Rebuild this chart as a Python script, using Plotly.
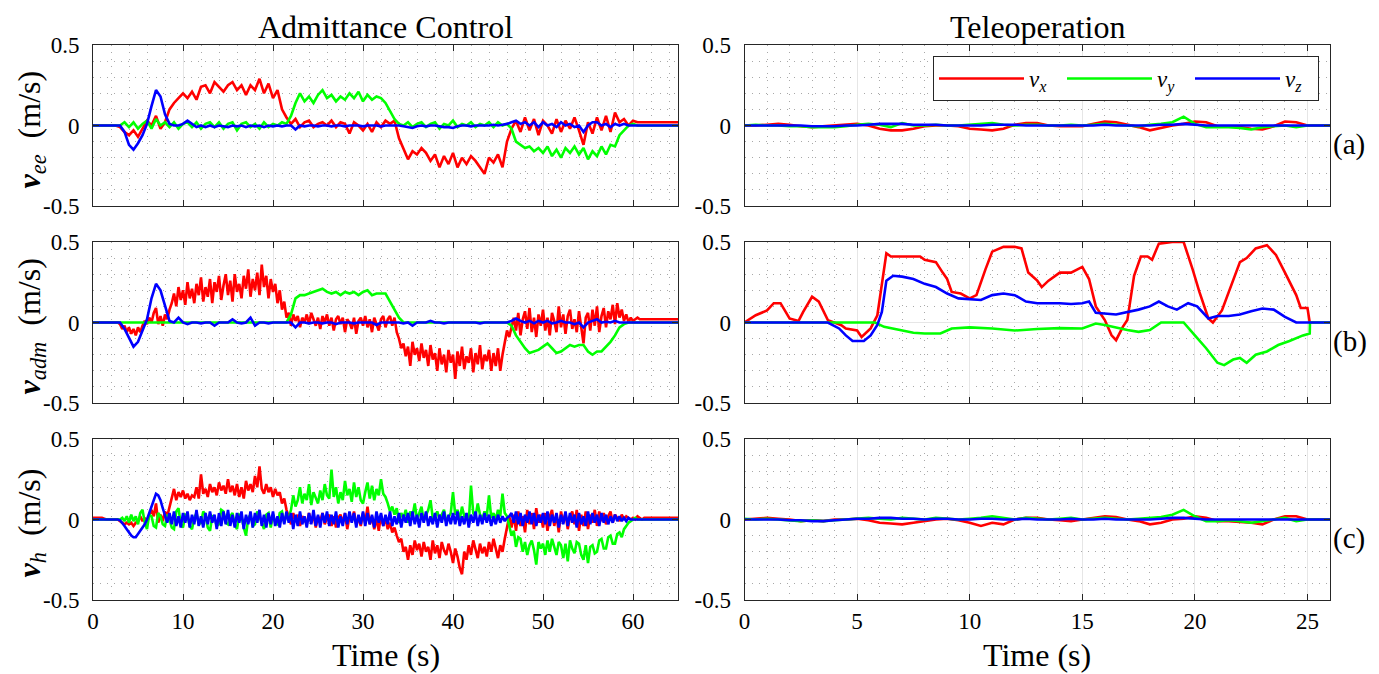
import numpy as np
import plotly.graph_objects as go

T_STEP = 0.5
T_FINE = 0.25

# Admittance control, (a) end-effector velocity  (0.5 s spacing)
ee_vx = [0, 0, 0, 0, 0, 0, -0.01, -0.04, -0.06, -0.03,
         -0.07, -0.02, 0.03, 0.0, 0.06, -0.02, 0.02, 0.1, 0.14, 0.17,
         0.2, 0.17, 0.21, 0.16, 0.24, 0.25, 0.2, 0.27, 0.24, 0.21,
         0.25, 0.27, 0.22, 0.25, 0.19, 0.25, 0.22, 0.29, 0.2, 0.26,
         0.17, 0.22, 0.1, 0.05, 0.01, 0.04, -0.01, 0.02, 0.03, -0.01,
         0.01, 0.02, 0.0, 0.03, -0.01, 0.02, 0.01, -0.05, 0.02, 0.0,
         -0.03, 0.01, -0.04, 0.02, -0.01, 0.03, 0.01, 0.03, -0.08, -0.15,
         -0.21, -0.16, -0.18, -0.14, -0.17, -0.22, -0.18, -0.26, -0.19, -0.24,
         -0.17, -0.26, -0.2, -0.24, -0.19, -0.22, -0.26, -0.3, -0.2, -0.23,
         -0.18, -0.26, -0.1, -0.02, 0.03, -0.04, 0.05, -0.03, 0.04, -0.06,
         0.03, 0.0, -0.05, 0.04, -0.04, 0.03, -0.02, 0.05, -0.03, -0.12,
         0.02, -0.05, 0.05, -0.03, 0.06, -0.04, 0.08, 0.02, 0.04, 0.0,
         0.03, 0.02, 0.02, 0.02, 0.02, 0.02, 0.02, 0.02, 0.02, 0.02,
         0.02]
ee_vy = [0, 0, 0, 0, 0, 0, 0.0, 0.02, -0.01, 0.02,
         -0.02, 0.01, 0.03, -0.02, 0.04, 0.0, 0.02, -0.01, 0.02, -0.02,
         0.01, 0.02, -0.01, 0.02, -0.02, 0.01, 0.02, -0.01, 0.02, -0.02,
         0.01, 0.02, -0.03, 0.01, 0.02, -0.01, 0.01, -0.02, 0.02, -0.01,
         0.01, 0.0, 0.02, 0.01, 0.06, 0.14, 0.2, 0.15, 0.18, 0.14,
         0.19, 0.22, 0.17, 0.19, 0.15, 0.18, 0.16, 0.2, 0.17, 0.21,
         0.15, 0.19, 0.16, 0.18, 0.17, 0.14, 0.09, 0.04, 0.01, 0.0,
         0.02, -0.01, 0.01, 0.02, -0.01, 0.01, 0.02, -0.02, 0.01, 0.0,
         0.03, -0.01, 0.01, 0.0, 0.02, -0.01, 0.01, 0.0, 0.02, -0.01,
         0.02, 0.0, 0.01, -0.02, -0.1, -0.12, -0.14, -0.13, -0.16, -0.14,
         -0.17, -0.13, -0.19, -0.15, -0.2, -0.14, -0.17, -0.13, -0.18, -0.14,
         -0.21, -0.16, -0.19, -0.13, -0.18, -0.12, -0.13, -0.06, -0.03, 0.0,
         0.01, 0, 0, 0, 0, 0, 0, 0, 0, 0,
         0]
ee_vz = [0, 0, 0, 0, 0, 0, 0.0, -0.04, -0.12, -0.15,
         -0.11, -0.06, 0.01, 0.12, 0.22, 0.18, 0.07, 0.01, 0.0, 0.0,
         0.01, 0.03, 0.01, -0.01, 0.0, -0.01, 0.0, -0.01, 0.0, -0.005,
         -0.01, 0.0, -0.005, 0.0, -0.01, 0.0, -0.005, 0.0, -0.01, 0.0,
         -0.005, 0.0, -0.005, 0.0, 0.0, -0.025, 0.0, -0.005, 0.0, 0.0,
         -0.005, 0.0, 0.0, -0.005, 0.0, 0.0, -0.005, 0.0, 0.0, 0.0,
         -0.005, 0.0, 0.0, 0.0, -0.005, 0.0, 0.0, 0.0, 0.0, -0.005,
         -0.01, -0.015, -0.005, 0.0, -0.005, 0.0, 0.0, -0.005, -0.01, -0.01,
         -0.015, -0.005, 0.0, 0.0, -0.005, 0.0, 0.0, 0.0, 0.0, 0.005,
         0.0, 0.005, 0.01, 0.02, 0.03, 0.01, 0.02, 0.0, 0.02, -0.01,
         0.02, 0.0, 0.01, -0.01, 0.02, 0.0, 0.01, -0.01, 0.0, -0.04,
         0.0, 0.02, 0.02, 0.0, 0.01, -0.01, 0.01, 0.0, 0.01, 0.0,
         0, 0, 0, 0, 0, 0, 0, 0, 0, 0,
         0]

# Admittance control, (b) admittance velocity
adm_vx = [0, 0, 0, 0, 0, 0, 0, 0, 0, 0, 0, 0, -0.01, -0.04, -0.02, -0.06, -0.03, -0.07, -0.04, -0.08,
          -0.03, -0.06, -0.02, 0.01, -0.01, 0.03, 0.0, 0.06, 0.09, -0.01, 0.04, -0.02, 0.05, 0.02, 0.08, 0.12, 0.18, 0.1, 0.22, 0.14,
          0.2, 0.11, 0.25, 0.15, 0.21, 0.12, 0.24, 0.17, 0.28, 0.13, 0.22, 0.16, 0.27, 0.12, 0.25, 0.19, 0.29, 0.14, 0.23, 0.3,
          0.17, 0.26, 0.13, 0.3, 0.19, 0.24, 0.15, 0.29, 0.21, 0.33, 0.16, 0.27, 0.2, 0.31, 0.17, 0.36, 0.22, 0.29, 0.15, 0.27,
          0.19, 0.24, 0.12, 0.2, 0.08, 0.13, 0.03, 0.06, -0.02, 0.05, 0.01, 0.04, -0.03, 0.03, 0.0, 0.05, -0.01, 0.06, 0.02, -0.02,
          0.03, -0.04, 0.04, 0.0, 0.05, -0.02, 0.03, -0.05, 0.02, 0.04, -0.01, 0.03, -0.06, 0.02, 0.0, -0.04, 0.03, -0.07, 0.01, 0.03,
          -0.02, 0.04, -0.03, 0.02, -0.06, 0.03, -0.01, -0.05, 0.02, 0.04, -0.03, 0.02, 0.04, -0.02, 0.03, -0.06, -0.1, -0.16, -0.13, -0.21,
          -0.15, -0.27, -0.12, -0.2, -0.16, -0.24, -0.13, -0.22, -0.17, -0.27, -0.14, -0.23, -0.19, -0.3, -0.16, -0.26, -0.2, -0.31, -0.17, -0.25,
          -0.2, -0.35, -0.18, -0.27, -0.15, -0.29, -0.21, -0.25, -0.16, -0.31, -0.19, -0.26, -0.14, -0.29, -0.2, -0.24, -0.17, -0.3, -0.19, -0.27,
          -0.16, -0.3, -0.2, -0.12, -0.05, -0.09, -0.02, 0.03, -0.05, 0.06, -0.08, 0.02, 0.07, -0.04, 0.09, -0.06, 0.03, -0.09, 0.05, -0.02,
          0.08, -0.05, 0.03, -0.08, 0.06, 0.01, -0.06, 0.1, -0.03, 0.05, -0.07, 0.04, 0.08, -0.04, 0.02, -0.06, 0.07, -0.02, -0.13, 0.03,
          0.06, -0.05, 0.08, -0.02, 0.1, -0.06, 0.04, 0.09, -0.03, 0.07, 0.02, 0.11, -0.01, 0.12, 0.03, 0.08, 0.01, 0.05, 0.0, 0.03,
          0.01, 0.02, 0.03, 0.02, 0.02, 0.02, 0.02, 0.02, 0.02, 0.02, 0.02, 0.02, 0.02, 0.02, 0.02, 0.02, 0.02, 0.02, 0.02, 0.02,
          0.02]
adm_vy = [0, 0, 0, 0, 0, 0, 0, 0, 0, 0,
          0, 0, 0, 0, 0, 0, 0, 0, 0, 0,
          0, 0, 0, 0, 0, 0, 0, 0, 0, 0,
          0, 0, 0, 0, 0, 0, 0, 0, 0, 0,
          0, 0, 0, 0, 0.05, 0.15, 0.17, 0.17, 0.18, 0.19,
          0.2, 0.21, 0.19, 0.18, 0.19, 0.17, 0.19, 0.18, 0.19, 0.17,
          0.19, 0.2, 0.17, 0.18, 0.18, 0.18, 0.13, 0.08, 0.03, 0.0,
          0, 0, 0, 0, 0, 0, 0, 0, 0, 0,
          0, 0, 0, 0, 0, 0, 0, 0, 0, 0,
          0, 0, 0, -0.02, -0.08, -0.12, -0.16, -0.19, -0.18, -0.17,
          -0.15, -0.13, -0.16, -0.19, -0.18, -0.16, -0.14, -0.15, -0.14, -0.14,
          -0.18, -0.2, -0.18, -0.18, -0.15, -0.12, -0.08, -0.03, -0.01, 0.0,
          0, 0, 0, 0, 0, 0, 0, 0, 0, 0,
          0]
adm_vz = [0, 0, 0, 0, 0, 0, 0.0, -0.04, -0.1, -0.15,
          -0.12, -0.05, 0.02, 0.15, 0.24, 0.2, 0.1, 0.01, 0.0, 0.03,
          0.0, -0.01, 0.0, 0.0, -0.005, 0.0, 0.0, -0.02, 0.0, 0.0,
          0.0, 0.02, 0.0, -0.005, 0.0, 0.03, -0.02, 0.0, 0.0, -0.005,
          0.0, 0.0, 0.0, 0.0, 0.0, -0.03, 0.0, 0.0, -0.005, 0.0,
          0.0, -0.005, 0.0, 0.0, -0.01, 0.0, 0.0, 0.0, -0.005, 0.0,
          0.0, 0.0, 0.0, -0.015, 0.0, 0.0, 0.0, 0.0, 0.0, -0.005,
          0.0, -0.02, 0.0, 0.0, 0.0, 0.01, 0.0, 0.0, -0.005, 0.0,
          0.0, 0.0, 0.0, 0.0, 0.0, 0.0, -0.005, 0.0, 0.0, 0.0,
          0.0, 0.0, 0.0, 0.01, 0.025, 0.01, 0.0, 0.01, -0.005, 0.01,
          0.0, 0.01, -0.005, 0.0, 0.01, 0.0, 0.0, -0.01, 0.0, -0.03,
          0.0, 0.01, 0.02, 0.0, 0.005, 0.0, 0.01, 0.0, 0.0, 0.0,
          0, 0, 0, 0, 0, 0, 0, 0, 0, 0,
          0]

# Admittance control, (c) human hand velocity  (0.25 s spacing)
h_vx = [0.01, 0.01, 0.01, 0.01, 0.01, 0.005, 0.0, 0.0, 0.0, 0.0, 0.0, 0.0, -0.01, -0.02, -0.03, -0.02, -0.03, -0.02, -0.04, -0.02,
        -0.01, 0.02, -0.01, 0.01, -0.02, 0.03, 0.06, 0.02, 0.1, -0.02, 0.03, -0.01, 0.05, 0.02, 0.08, 0.14, 0.19, 0.12, 0.17, 0.14,
        0.18, 0.13, 0.16, 0.12, 0.15, 0.14, 0.2, 0.13, 0.28, 0.16, 0.19, 0.14, 0.22, 0.17, 0.2, 0.15, 0.23, 0.18, 0.21, 0.16,
        0.25, 0.17, 0.21, 0.15, 0.22, 0.14, 0.2, 0.13, 0.24, 0.18, 0.22, 0.17, 0.27, 0.2, 0.33, 0.19, 0.16, 0.22, 0.17, 0.2,
        0.14, 0.19, 0.15, 0.17, 0.1, 0.13, 0.06, 0.02, -0.03, 0.04, -0.01, 0.03, -0.04, 0.02, 0.0, -0.03, 0.04, -0.02, 0.03, -0.05,
        0.02, -0.01, 0.04, -0.03, 0.01, 0.03, -0.04, 0.02, -0.05, 0.01, 0.03, -0.02, 0.04, -0.06, 0.02, -0.01, 0.05, -0.03, 0.01, -0.04,
        0.04, -0.02, 0.08, -0.03, 0.02, -0.06, 0.01, -0.07, 0.03, -0.04, 0.01, -0.06, -0.02, -0.08, -0.05, -0.1, -0.14, -0.12, -0.2, -0.17,
        -0.25, -0.16, -0.22, -0.13, -0.19, -0.15, -0.23, -0.14, -0.2, -0.17, -0.25, -0.13, -0.21, -0.16, -0.24, -0.14, -0.19, -0.22, -0.15, -0.2,
        -0.27, -0.18, -0.23, -0.3, -0.34, -0.2, -0.25, -0.16, -0.22, -0.13, -0.19, -0.24, -0.15, -0.21, -0.17, -0.23, -0.14, -0.2, -0.12, -0.18,
        -0.24, -0.16, -0.2, -0.12, -0.06, 0.02, -0.05, 0.03, -0.07, 0.05, -0.04, 0.02, -0.08, 0.06, -0.03, 0.04, -0.06, 0.07, -0.02, 0.03,
        -0.05, 0.04, -0.07, 0.02, 0.06, -0.04, 0.03, -0.08, 0.05, -0.02, 0.04, -0.06, 0.02, 0.05, -0.03, 0.06, -0.07, 0.03, -0.04, 0.05,
        -0.06, 0.03, -0.02, 0.06, -0.04, 0.05, -0.01, 0.04, -0.03, 0.02, 0.05, -0.02, 0.03, 0.01, -0.01, 0.03, 0.0, 0.02, 0.01, 0.0,
        0.01, 0.0, 0.02, 0.01, 0.0, 0.01, 0.01, 0.01, 0.01, 0.01, 0.01, 0.01, 0.01, 0.01, 0.01, 0.01, 0.01, 0.01, 0.01, 0.01,
        0.01]
h_vy = [0, 0, 0, 0, 0, 0, 0, 0, 0, 0, 0, 0, 0.0, 0.01, -0.01, 0.02, -0.02, 0.03, -0.01, 0.02,
        -0.03, 0.04, 0.06, -0.02, -0.06, 0.03, 0.02, -0.04, -0.05, 0.04, 0.02, -0.03, -0.04, 0.03, 0.0, -0.05, -0.06, 0.05, 0.07, -0.03,
        -0.05, 0.03, 0.02, -0.04, -0.06, 0.01, 0.04, -0.03, -0.02, 0.05, 0.03, -0.05, -0.07, 0.02, 0.01, -0.04, -0.03, 0.06, 0.05, -0.02,
        -0.03, 0.02, 0.04, -0.03, -0.06, 0.03, 0.02, -0.05, -0.1, 0.01, 0.03, -0.04, -0.03, 0.05, 0.02, -0.02, -0.06, 0.03, 0.04, -0.05,
        0.03, -0.02, -0.03, 0.04, 0.05, -0.02, 0.03, 0.01, 0.06, 0.15, 0.08, 0.12, 0.2, 0.1, 0.16, 0.12, 0.22, 0.09, 0.17, 0.13,
        0.1, 0.18, 0.12, 0.22, 0.15, 0.13, 0.31, 0.14, 0.2, 0.1, 0.17, 0.12, 0.24, 0.15, 0.19, 0.11, 0.23, 0.14, 0.2, 0.12,
        0.1, 0.17, 0.23, 0.13, 0.21, 0.12, 0.19, 0.15, 0.25, 0.16, 0.14, 0.1, 0.05, 0.08, 0.03, 0.07, -0.02, 0.04, 0.01, 0.06,
        -0.02, 0.05, 0.02, 0.1, 0.0, 0.04, 0.08, -0.01, 0.03, 0.06, 0.12, 0.01, 0.02, 0.05, 0.0, 0.03, 0.06, -0.01, 0.02, 0.04,
        0.17, 0.03, 0.06, 0.0, 0.08, 0.02, 0.03, -0.01, 0.21, 0.04, 0.02, 0.1, 0.03, 0.0, 0.05, 0.02, 0.15, 0.01, 0.04, 0.0,
        0.06, 0.02, 0.16, 0.04, 0.02, -0.04, -0.1, -0.07, -0.17, -0.11, -0.12, -0.2, -0.14, -0.22, -0.16, -0.13, -0.19, -0.28, -0.14, -0.18,
        -0.15, -0.22, -0.13, -0.2, -0.12, -0.17, -0.22, -0.14, -0.16, -0.24, -0.15, -0.26, -0.13, -0.18, -0.21, -0.14, -0.15, -0.22, -0.25, -0.16,
        -0.27, -0.17, -0.16, -0.21, -0.2, -0.13, -0.12, -0.18, -0.18, -0.11, -0.1, -0.15, -0.15, -0.09, -0.08, -0.11, -0.06, -0.04, -0.02, -0.01,
        0.0, 0.01, 0.0, 0.0, 0, 0, 0, 0, 0, 0, 0, 0, 0, 0, 0, 0, 0, 0, 0, 0,
        0]
h_vz = [0, 0, 0, 0, 0, 0, 0, 0, 0, 0, 0, 0, -0.005, -0.02, -0.04, -0.06, -0.08, -0.1, -0.11, -0.11,
        -0.09, -0.07, -0.05, -0.03, 0.0, 0.04, 0.08, 0.12, 0.16, 0.15, 0.12, 0.07, 0.03, -0.02, 0.04, -0.03, 0.05, -0.04, 0.02, -0.05,
        0.04, -0.02, 0.05, -0.05, 0.03, -0.03, 0.06, -0.04, 0.02, -0.05, 0.04, -0.03, 0.05, -0.02, 0.03, -0.06, 0.04, -0.04, 0.05, -0.03,
        0.06, -0.04, 0.03, -0.05, 0.04, -0.02, 0.05, -0.06, 0.03, -0.03, 0.05, -0.05, 0.04, -0.02, 0.06, -0.04, 0.03, -0.05, 0.04, -0.03,
        0.05, -0.04, 0.02, -0.05, 0.04, -0.03, 0.05, -0.02, 0.04, -0.06, 0.03, -0.04, 0.05, -0.03, 0.02, -0.05, 0.04, -0.03, 0.06, -0.04,
        0.03, -0.05, 0.04, -0.02, 0.05, -0.04, 0.03, -0.03, 0.05, -0.05, 0.02, -0.04, 0.04, -0.03, 0.05, -0.02, 0.04, -0.05, 0.03, -0.03,
        0.05, -0.04, 0.04, -0.03, 0.03, -0.05, 0.05, -0.02, 0.04, -0.04, 0.03, -0.03, 0.05, -0.04, 0.02, -0.03, 0.04, -0.05, 0.03, -0.02,
        0.04, -0.04, 0.05, -0.03, 0.03, -0.05, 0.04, -0.02, 0.05, -0.04, 0.02, -0.03, 0.04, -0.05, 0.03, -0.02, 0.05, -0.04, 0.03, -0.03,
        0.04, -0.03, 0.05, -0.04, 0.02, -0.03, 0.04, -0.05, 0.03, -0.02, 0.05, -0.04, 0.03, -0.03, 0.04, -0.02, 0.03, -0.04, 0.02, -0.03,
        0.03, -0.02, 0.02, -0.01, 0.01, 0.02, 0.04, -0.02, 0.05, -0.03, 0.04, -0.04, 0.03, -0.02, 0.05, -0.03, 0.04, -0.04, 0.03, -0.02,
        0.04, -0.03, 0.05, -0.04, 0.03, -0.02, 0.04, -0.05, 0.03, -0.03, 0.05, -0.04, 0.04, -0.02, 0.03, -0.05, 0.04, -0.03, 0.02, -0.04,
        0.05, -0.03, 0.04, -0.02, 0.03, -0.04, 0.04, -0.02, 0.03, -0.03, 0.02, -0.02, 0.03, -0.01, 0.02, -0.01, 0.01, -0.01, 0.01, 0.0,
        0, 0, 0, 0, 0, 0, 0, 0, 0, 0, 0, 0, 0, 0, 0, 0, 0, 0, 0, 0,
        0]

# Teleoperation, (a) end-effector velocity  (0.5 s spacing)
tel_ee_vx = [0.0, 0.0, 0.005, 0.01, 0.005, -0.005, -0.01, -0.005, 0.0, 0.005,
             0.01, 0.0, -0.02, -0.03, -0.03, -0.02, -0.005, 0.0, 0.0, -0.005,
             -0.02, -0.025, -0.03, -0.02, 0.005, 0.015, 0.015, 0.0, -0.005, -0.005,
             -0.005, 0.01, 0.025, 0.02, 0.005, -0.01, -0.03, -0.015, 0.0, 0.01,
             0.025, 0.02, -0.005, -0.005, -0.01, -0.02, -0.025, -0.005, 0.025, 0.02,
             0.0, 0.0, 0.0]
tel_ee_vy = [0.0, 0.005, 0.0, 0.0, -0.005, -0.005, -0.01, -0.01, -0.01, -0.005,
             0.005, 0.01, 0.005, -0.01, 0.015, 0.0, 0.0, 0.005, 0.0, 0.0,
             0.005, 0.01, 0.015, 0.005, 0.0, 0.005, 0.005, 0.0, 0.0, 0.005,
             0.0, 0.005, 0.01, 0.005, 0.0, -0.005, 0.005, 0.01, 0.02, 0.055,
             0.01, -0.01, -0.01, -0.01, -0.015, -0.025, -0.01, -0.005, 0.0, -0.01,
             0.0, 0.0, 0.0]
tel_ee_vz = [0.0, 0.0, 0.0, 0.0, 0.0, 0.0, -0.005, -0.005, -0.005, 0.0,
             0.0, 0.005, 0.01, 0.01, 0.01, 0.005, 0.005, 0.005, 0.0, 0.0,
             0.0, 0.0, 0.005, 0.005, 0.005, 0.0, 0.0, 0.0, 0.0, 0.0,
             0.0, 0.0, 0.005, 0.0, 0.0, 0.0, 0.0, 0.005, 0.005, 0.01,
             0.005, 0.0, 0.0, 0.0, 0.0, 0.0, 0.0, 0.0, 0.0, 0.0,
             0.0, 0.0, 0.0]

# Teleoperation, (b) commanded velocity (irregular sample times)
tel_cmd_t_vx = [0, 0.5, 1, 1.3, 1.6, 2, 2.4, 2.6, 3, 3.3, 3.7, 4.3, 4.5, 5, 5.2,
                5.6, 5.9, 6.1, 6.3, 6.5, 7, 7.5, 7.8, 8, 8.3, 8.5, 8.8, 9, 9.2, 9.6,
                10, 10.3, 10.7, 11, 11.5, 12, 12.3, 12.6, 13, 13.2, 13.5, 14, 14.5, 15, 15.3,
                15.6, 16, 16.3, 16.5, 16.8, 17, 17.3, 17.6, 17.9, 18.1, 18.4, 19, 19.5, 19.9, 20.2,
                20.6, 20.8, 21.2, 21.5, 22, 22.3, 22.7, 23.2, 23.6, 24, 24.5, 24.7, 25, 25.1]
tel_cmd_vx = [0, 0.045, 0.075, 0.12, 0.12, 0.025, 0.01, 0.065, 0.16, 0.13, 0.015, -0.017, -0.037, -0.05, -0.09,
              -0.037, 0.045, 0.23, 0.43, 0.41, 0.41, 0.41, 0.41, 0.39, 0.38, 0.375, 0.31, 0.27, 0.19, 0.18,
              0.15, 0.17, 0.33, 0.44, 0.47, 0.47, 0.46, 0.31, 0.26, 0.22, 0.26, 0.31, 0.31, 0.345, 0.27,
              0.1, 0.015, -0.08, -0.11, -0.027, 0.015, 0.29, 0.41, 0.41, 0.39, 0.49, 0.5, 0.5, 0.33, 0.19,
              0.025, 0.0, 0.075, 0.19, 0.375, 0.4, 0.46, 0.48, 0.42, 0.31, 0.17, 0.09, 0.09, 0.0]
tel_cmd_t_vy = [0, 5.8, 6.2, 7, 7.5, 8, 8.7, 9.2, 10, 11, 12, 13, 14, 15, 15.6, 16, 17, 17.5,
                18, 18.5, 19.5, 20, 20.5, 21, 21.3, 21.7, 22, 22.3, 22.7, 23.2, 23.7, 24.2,
                24.8, 25.1, 25.11, 26]
tel_cmd_vy = [0, 0, -0.027, -0.047, -0.064, -0.068, -0.068, -0.037, -0.03, -0.037, -0.05, -0.04,
              -0.035, -0.037, -0.006, -0.015, -0.047, -0.058, -0.047, 0.0, 0.0, -0.08, -0.16, -0.25,
              -0.265, -0.23, -0.22, -0.25, -0.2, -0.18, -0.14, -0.115, -0.08, -0.068, 0.0, 0.0]
tel_cmd_t_vz = [0, 3.7, 4.2, 4.5, 4.8, 5.3, 5.6, 5.9, 6.1, 6.3, 6.6, 7, 7.5, 8, 8.5, 9, 9.5, 10,
                10.5, 11, 11.5, 12, 12.5, 13, 14, 14.5, 15, 15.3, 15.6, 16.5, 17, 17.5, 18, 18.4,
                18.8, 19.2, 19.7, 20.1, 20.6, 21, 21.5, 22, 22.5, 23, 23.5, 24, 24.5, 26]
tel_cmd_vz = [0, 0, -0.037, -0.08, -0.115, -0.115, -0.08, -0.015, 0.065, 0.26, 0.29, 0.285, 0.27,
              0.24, 0.22, 0.18, 0.15, 0.145, 0.14, 0.17, 0.18, 0.17, 0.13, 0.12, 0.12, 0.115, 0.12,
              0.13, 0.06, 0.05, 0.065, 0.08, 0.1, 0.13, 0.1, 0.08, 0.12, 0.1, 0.025, 0.04, 0.04,
              0.05, 0.07, 0.087, 0.08, 0.035, 0.0, 0.0]

# Teleoperation, (c) human hand velocity  (0.5 s spacing)
tel_h_vx = [0.0, 0.005, 0.01, 0.005, 0.0, -0.01, -0.005, -0.01, 0.0, 0.0,
            0.005, -0.005, -0.02, -0.025, -0.03, -0.02, -0.01, 0.0, 0.005, -0.005,
            -0.02, -0.04, -0.02, -0.03, 0.0, 0.01, 0.01, 0.0, -0.005, -0.01,
            0.0, 0.01, 0.02, 0.015, 0.0, -0.01, -0.03, -0.02, 0.0, 0.005,
            0.02, 0.01, -0.01, -0.01, -0.015, -0.02, -0.03, 0.0, 0.02, 0.02,
            0.0, 0.0, 0.0]
tel_h_vy = [0.005, 0.0, 0.005, 0.0, -0.005, -0.01, -0.005, -0.01, -0.005, 0.0,
            0.005, 0.01, 0.005, 0.0, 0.01, 0.005, 0.0, 0.01, 0.005, 0.0,
            0.005, 0.01, 0.02, 0.01, 0.0, 0.01, 0.005, 0.0, 0.005, 0.01,
            0.0, 0.005, 0.01, 0.005, 0.0, 0.005, 0.01, 0.015, 0.03, 0.06,
            0.02, -0.01, -0.01, -0.005, -0.01, -0.02, -0.01, 0.0, 0.01, -0.01,
            0.0, 0.0, 0.0]
tel_h_vz = [0.0, 0.0, 0.0, 0.0, -0.005, -0.005, -0.01, -0.01, -0.005, 0.0,
            0.005, 0.005, 0.01, 0.01, 0.005, 0.005, 0.0, 0.005, 0.005, 0.0,
            0.0, 0.005, 0.005, 0.0, 0.0, 0.005, 0.0, 0.0, 0.0, 0.005,
            0.0, 0.0, 0.005, 0.0, 0.0, 0.0, 0.0, 0.005, 0.01, 0.01,
            0.005, 0.0, 0.0, 0.0, 0.0, 0.0, 0.0, 0.0, 0.0, 0.0,
            0.0, 0.0, 0.0]

series_names = ["<i>v</i><sub><i>x</i></sub>", "<i>v</i><sub><i>y</i></sub>", "<i>v</i><sub><i>z</i></sub>"]
row_labels = ["<b><i>v</i></b><sub><i>ee</i></sub>  (m/s)",
              "<b><i>v</i></b><sub><i>adm</i></sub>  (m/s)",
              "<b><i>v</i></b><sub><i>h</i></sub>  (m/s)"]
panel_tags = ["(a)", "(b)", "(c)"]
column_titles = ["Admittance Control", "Teleoperation"]
x_ticks_left = [0, 10, 20, 30, 40, 50, 60]
x_ticks_right = [0, 5, 10, 15, 20, 25]
y_ticks = [-0.5, 0, 0.5]
y_ticktext = ["-0.5", "0", "0.5"]

# ---------------- styling ----------------
# The page body adds an 8 px margin, so the figure is drawn 8 px smaller
# and every target pixel position is shifted by that amount.
OFF = 8
W, H = 1379 - OFF, 674 - OFF
COLORS = ["#ff0000", "#00ff00", "#0000ff"]
LW = 2.6
FONT = "Liberation Serif"
AX = "#262626"
LABEL_SIZE = 32

def px_x(p):
    return (p - OFF) / W

def px_y(p):
    return 1 - (p - OFF) / H

col_dom = [[px_x(93), px_x(678)], [px_x(744.5), px_x(1330)]]
row_px = [(45, 206), (242, 403), (439, 600)]
row_dom = [[px_y(b), px_y(t)] for t, b in row_px]

def t_of(v, step=T_STEP):
    return step * np.arange(len(v))

panels = {
    (0, 0): [(t_of(ee_vx), ee_vx), (t_of(ee_vy), ee_vy), (t_of(ee_vz), ee_vz)],
    (1, 0): [(t_of(adm_vx, T_FINE), adm_vx), (t_of(adm_vy), adm_vy), (t_of(adm_vz), adm_vz)],
    (2, 0): [(t_of(h_vx, T_FINE), h_vx), (t_of(h_vy, T_FINE), h_vy), (t_of(h_vz, T_FINE), h_vz)],
    (0, 1): [(t_of(tel_ee_vx), tel_ee_vx), (t_of(tel_ee_vy), tel_ee_vy), (t_of(tel_ee_vz), tel_ee_vz)],
    (1, 1): [(tel_cmd_t_vx, tel_cmd_vx), (tel_cmd_t_vy, tel_cmd_vy), (tel_cmd_t_vz, tel_cmd_vz)],
    (2, 1): [(t_of(tel_h_vx), tel_h_vx), (t_of(tel_h_vy), tel_h_vy), (t_of(tel_h_vz), tel_h_vz)],
}

fig = go.Figure()
layout = {}
for r in range(3):
    for c in range(2):
        idx = r * 2 + c + 1
        sfx = "" if idx == 1 else str(idx)
        xname, yname = "xaxis" + sfx, "yaxis" + sfx
        left = (c == 0)
        common = dict(
            ticks="inside", ticklen=6, tickcolor=AX, tickwidth=1,
            showline=True, linecolor=AX, linewidth=1, mirror="ticks",
            showgrid=True, gridcolor="#e6e6e6", gridwidth=1, zeroline=False,
            tickfont=dict(family=FONT, size=23, color="#000"),
            automargin=False, fixedrange=True,
        )
        layout[xname] = dict(
            domain=col_dom[c], anchor="y" + sfx,
            range=[0, 65] if left else [0, 26],
            tickvals=x_ticks_left if left else x_ticks_right,
            showticklabels=(r == 2),
            minor=dict(dtick=2 if left else 1, tick0=0, showgrid=True,
                       gridcolor="#a8a8a8", griddash="1px,6px", gridwidth=1),
            **common,
        )
        layout[yname] = dict(
            domain=row_dom[r], anchor="x" + sfx,
            range=[-0.5, 0.5], tickvals=y_ticks, ticktext=y_ticktext,
            ticklabelstandoff=8,
            minor=dict(dtick=0.1, tick0=0, showgrid=True,
                       gridcolor="#a8a8a8", griddash="1px,6px", gridwidth=1),
            **common,
        )
        for k, (tt, vv) in enumerate(panels[(r, c)]):
            fig.add_trace(go.Scatter(
                x=list(tt), y=vv, mode="lines",
                line=dict(color=COLORS[k], width=LW),
                name=series_names[k],
                showlegend=(r == 0 and c == 1),
                xaxis="x" + sfx, yaxis="y" + sfx,
                hoverinfo="skip",
            ))

annotations = []
for c, title in enumerate(column_titles):
    xc = (col_dom[c][0] + col_dom[c][1]) / 2
    annotations.append(dict(text=title, x=xc, y=px_y(27), xref="paper", yref="paper",
                            xanchor="center", yanchor="middle", showarrow=False,
                            font=dict(family=FONT, size=LABEL_SIZE, color="#000")))
    annotations.append(dict(text="Time (s)", x=xc, y=px_y(655), xref="paper", yref="paper",
                            xanchor="center", yanchor="middle", showarrow=False,
                            font=dict(family=FONT, size=LABEL_SIZE, color="#000")))
for r in range(3):
    yc = px_y((row_px[r][0] + row_px[r][1]) / 2 + 4)
    annotations.append(dict(text=row_labels[r], x=px_x(31), y=yc, xref="paper", yref="paper",
                            xanchor="center", yanchor="middle", showarrow=False, textangle=-90,
                            font=dict(family=FONT, size=LABEL_SIZE, color="#000")))
    annotations.append(dict(text=panel_tags[r], x=px_x(1331), y=px_y(row_px[r][0] + 99),
                            xref="paper", yref="paper", xanchor="left", yanchor="middle",
                            showarrow=False, font=dict(family=FONT, size=29, color="#000")))

fig.update_layout(
    template="none",
    width=W, height=H,
    margin=dict(l=0, r=0, t=0, b=0, autoexpand=False),
    paper_bgcolor="white", plot_bgcolor="white",
    font=dict(family=FONT, color="#000"),
    annotations=annotations,
    legend=dict(orientation="h", x=px_x(933), y=px_y(56), xanchor="left", yanchor="top",
                bgcolor="white", bordercolor=AX, borderwidth=1,
                font=dict(family=FONT, size=23, color="#000"),
                entrywidth=28, entrywidthmode="pixels", itemwidth=85, tracegroupgap=0),
    **layout,
)

fig.write_html("out.html")
